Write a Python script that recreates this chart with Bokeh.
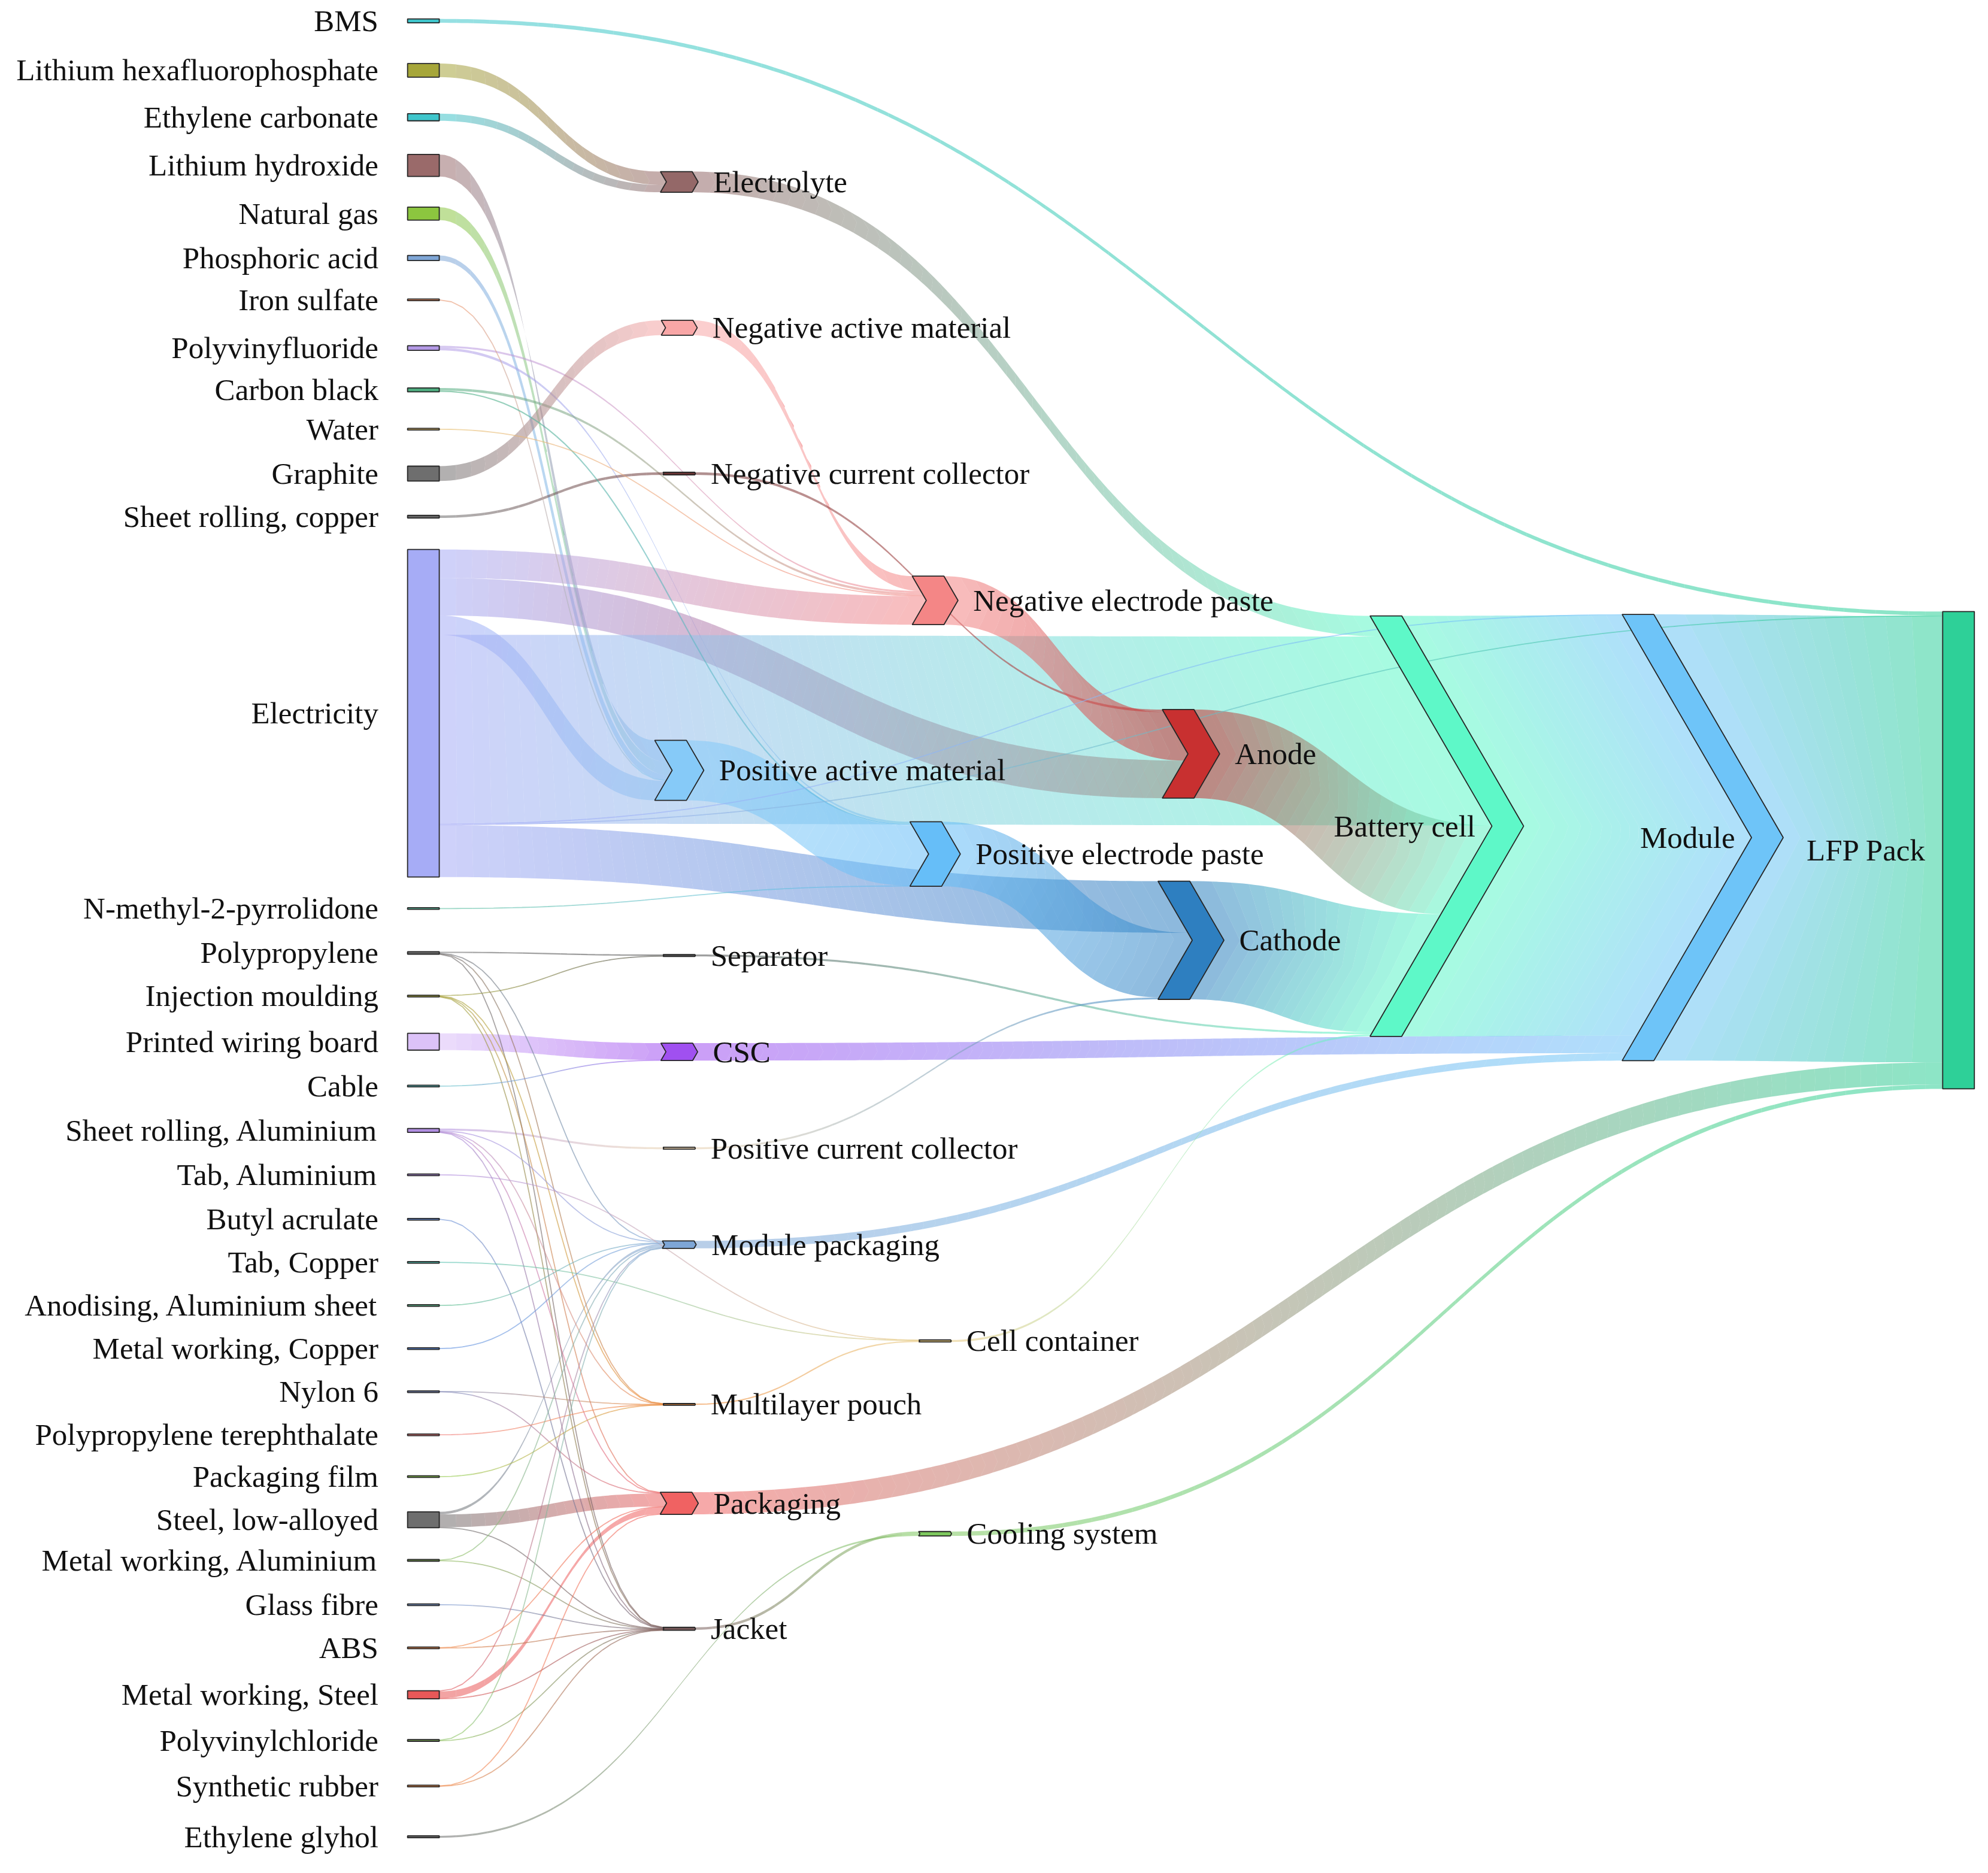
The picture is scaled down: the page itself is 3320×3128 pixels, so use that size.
import numpy as np
from bokeh.plotting import figure
from bokeh.models import Range1d, ColumnDataSource
from bokeh.core.properties import value
from bokeh.embed import file_html
from bokeh.resources import INLINE

# ---------------- data ----------------
node_names = [
    "BMS", "Lithium hexafluorophosphate", "Ethylene carbonate", "Lithium hydroxide", "Natural gas",
    "Phosphoric acid", "Iron sulfate", "Polyvinyfluoride", "Carbon black", "Water", "Graphite",
    "Sheet rolling, copper", "Electricity", "N-methyl-2-pyrrolidone", "Polypropylene",
    "Injection moulding", "Printed wiring board", "Cable", "Sheet rolling, Aluminium",
    "Tab, Aluminium", "Butyl acrulate", "Tab, Copper", "Anodising, Aluminium sheet",
    "Metal working, Copper", "Nylon 6", "Polypropylene terephthalate", "Packaging film",
    "Steel, low-alloyed", "Metal working, Aluminium", "Glass fibre", "ABS", "Metal working, Steel",
    "Polyvinylchloride", "Synthetic rubber", "Ethylene glyhol",
    "Electrolyte", "Negative active material", "Negative current collector",
    "Positive active material", "Separator", "CSC", "Positive current collector",
    "Module packaging", "Multilayer pouch", "Packaging", "Jacket",
    "Negative electrode paste", "Positive electrode paste", "Cell container", "Cooling system",
    "Anode", "Cathode", "Battery cell", "Module", "LFP Pack",
]

node_colors = [
    "#3fc6cc", "#a6a63a", "#3fc6cc", "#9a6a6a", "#8cc63f",
    "#7fa6d6", "#f0956a", "#b49ae6", "#4fae80", "#e6c070", "#6e6e6e",
    "#6e6e6e", "#a6acf6", "#5fc0a0", "#6e6e6e",
    "#a6a63a", "#dcc2f8", "#5fc6c6", "#b08ee0",
    "#b08ee0", "#6f96e0", "#4fc0b0", "#5fc090",
    "#5f8fe0", "#7f8fc0", "#f07f7f", "#8fce4f",
    "#6e6e6e", "#8fc05f", "#7f9fd6", "#f08f4f", "#e85858",
    "#8fc65f", "#f08f4f", "#6e6e6e",
    "#946868", "#f8a6a6", "#6e3434",
    "#86caf8", "#505050", "#a050f0", "#e6cfae",
    "#7ea6d6", "#f08c3c", "#f06262", "#7a5c5c",
    "#f48686", "#66bef8", "#e6c87e", "#7ec85e",
    "#c83030", "#2e7fc0", "#5ef8c8", "#6ec4f8", "#2ed098",
]

link_source = [
    "BMS", "Lithium hexafluorophosphate", "Ethylene carbonate",
    "Lithium hydroxide", "Natural gas", "Phosphoric acid", "Iron sulfate",
    "Polyvinyfluoride", "Polyvinyfluoride", "Carbon black", "Carbon black", "Water",
    "Graphite", "Sheet rolling, copper",
    "Electricity", "Electricity", "Electricity", "Electricity", "Electricity", "Electricity", "Electricity",
    "N-methyl-2-pyrrolidone",
    "Polypropylene", "Polypropylene", "Polypropylene", "Polypropylene",
    "Injection moulding", "Injection moulding", "Injection moulding", "Injection moulding",
    "Printed wiring board", "Cable",
    "Sheet rolling, Aluminium", "Sheet rolling, Aluminium", "Sheet rolling, Aluminium",
    "Sheet rolling, Aluminium", "Sheet rolling, Aluminium",
    "Tab, Aluminium", "Butyl acrulate", "Tab, Copper", "Anodising, Aluminium sheet",
    "Metal working, Copper", "Nylon 6", "Nylon 6", "Polypropylene terephthalate", "Packaging film",
    "Steel, low-alloyed", "Steel, low-alloyed", "Steel, low-alloyed",
    "Metal working, Aluminium", "Metal working, Aluminium", "Glass fibre", "ABS", "ABS",
    "Metal working, Steel", "Metal working, Steel", "Metal working, Steel",
    "Polyvinylchloride", "Polyvinylchloride", "Synthetic rubber", "Synthetic rubber",
    "Ethylene glyhol",
    "Electrolyte", "Negative active material", "Negative current collector",
    "Positive active material", "Separator", "CSC", "Positive current collector",
    "Module packaging", "Multilayer pouch", "Packaging", "Jacket",
    "Negative electrode paste", "Positive electrode paste", "Cell container", "Cooling system",
    "Anode", "Cathode", "Battery cell", "Module",
]
link_target = [
    "LFP Pack", "Electrolyte", "Electrolyte",
    "Positive active material", "Positive active material", "Positive active material",
    "Positive active material",
    "Negative electrode paste", "Positive electrode paste", "Negative electrode paste",
    "Positive electrode paste", "Negative electrode paste",
    "Negative active material", "Negative current collector",
    "Negative electrode paste", "Anode", "Positive active material", "Battery cell", "Module",
    "LFP Pack", "Cathode",
    "Positive electrode paste",
    "Separator", "Module packaging", "Multilayer pouch", "Jacket",
    "Separator", "Multilayer pouch", "Packaging", "Jacket",
    "CSC", "CSC",
    "Positive current collector", "Module packaging", "Multilayer pouch", "Packaging", "Jacket",
    "Cell container", "Jacket", "Cell container", "Module packaging",
    "Module packaging", "Multilayer pouch", "Packaging", "Multilayer pouch", "Multilayer pouch",
    "Module packaging", "Packaging", "Jacket",
    "Module packaging", "Jacket", "Jacket", "Packaging", "Jacket",
    "Module packaging", "Packaging", "Jacket",
    "Module packaging", "Jacket", "Jacket", "Packaging",
    "Cooling system",
    "Battery cell", "Negative electrode paste", "Anode",
    "Positive electrode paste", "Battery cell", "Module", "Cathode",
    "Module", "Cell container", "LFP Pack", "Cooling system",
    "Anode", "Cathode", "Battery cell", "LFP Pack",
    "Battery cell", "Battery cell", "Module", "LFP Pack",
]
link_value = [
    3.0, 10.5, 5.5,
    17.0, 10.0, 4.0, 0.4,
    1.5, 2.0, 2.0, 1.0, 0.5,
    11.5, 2.0,
    22.0, 29.0, 15.0, 146.0, 0.6, 0.6, 40.0,
    0.5,
    1.0, 0.5, 0.2, 0.2,
    0.5, 0.2, 0.4, 0.2,
    13.0, 0.5,
    1.5, 0.8, 0.2, 0.3, 0.2,
    0.3, 0.2, 0.3, 0.5,
    0.5, 0.2, 0.3, 0.2, 0.2,
    2.0, 10.0, 0.3,
    0.5, 0.2, 0.2, 0.3, 0.2,
    0.6, 5.5, 0.2,
    0.4, 0.2, 0.2, 0.3,
    1.5,
    16.0, 11.5, 2.0,
    46.4, 1.5, 13.5, 1.5,
    5.8, 1.0, 17.1, 1.9,
    37.5, 49.9, 1.6, 3.4,
    68.5, 91.4, 325.1, 344.9,
]

# ---------------- layout (column index, vertical centre in reference units) ----------------
node_layout = {
    "BMS": (0, 20), "Lithium hexafluorophosphate": (0, 59), "Ethylene carbonate": (0, 96),
    "Lithium hydroxide": (0, 134), "Natural gas": (0, 172), "Phosphoric acid": (0, 207),
    "Iron sulfate": (0, 240), "Polyvinyfluoride": (0, 278), "Carbon black": (0, 311),
    "Water": (0, 342), "Graphite": (0, 377), "Sheet rolling, copper": (0, 411),
    "Electricity": (0, 566), "N-methyl-2-pyrrolidone": (0, 720), "Polypropylene": (0, 755),
    "Injection moulding": (0, 789), "Printed wiring board": (0, 825), "Cable": (0, 860),
    "Sheet rolling, Aluminium": (0, 895), "Tab, Aluminium": (0, 930), "Butyl acrulate": (0, 965),
    "Tab, Copper": (0, 999), "Anodising, Aluminium sheet": (0, 1033),
    "Metal working, Copper": (0, 1067), "Nylon 6": (0, 1101),
    "Polypropylene terephthalate": (0, 1135), "Packaging film": (0, 1168),
    "Steel, low-alloyed": (0, 1202), "Metal working, Aluminium": (0, 1234),
    "Glass fibre": (0, 1269), "ABS": (0, 1303), "Metal working, Steel": (0, 1340),
    "Polyvinylchloride": (0, 1376), "Synthetic rubber": (0, 1412), "Ethylene glyhol": (0, 1452),
    "Electrolyte": (1, 147), "Negative active material": (1, 262),
    "Negative current collector": (1, 377), "Positive active material": (1, 611),
    "Separator": (1, 757), "CSC": (1, 833), "Positive current collector": (1, 909),
    "Module packaging": (1, 985), "Multilayer pouch": (1, 1111), "Packaging": (1, 1189),
    "Jacket": (1, 1288),
    "Negative electrode paste": (2, 477), "Positive electrode paste": (2, 677),
    "Cell container": (2, 1061), "Cooling system": (2, 1213),
    "Anode": (3, 598), "Cathode": (3, 745), "Battery cell": (4, 655), "Module": (5, 664),
    "LFP Pack": (6, 674),
}

W, H = 3304, 3112
KX, KY = 3320 / 1568, 3128 / 1477
SCALE = 1.02          # reference units per value unit
BW = 25               # node body width
COL0, COLSTEP = 337.5, 201.8
CHEV = 0.29
LAST_COL = 6
FONT = "51px"


def hex2rgb(h):
    h = h.lstrip("#")
    return np.array([int(h[i:i + 2], 16) for i in (0, 2, 4)], dtype=float)


def mix(c1, c2, u):
    c = hex2rgb(c1) * (1 - u) + hex2rgb(c2) * u
    return "#%02x%02x%02x" % tuple(int(round(v)) for v in c)


n = len(node_names)
idx = {nm: i for i, nm in enumerate(node_names)}
src = np.array([idx[s] for s in link_source])
tgt = np.array([idx[t] for t in link_target])
val = np.array(link_value, dtype=float)

inflow = np.zeros(n)
outflow = np.zeros(n)
for s, t, v in zip(src, tgt, val):
    outflow[s] += v
    inflow[t] += v
height = np.maximum(inflow, outflow) * SCALE
col = np.array([node_layout[nm][0] for nm in node_names])
cy = np.array([node_layout[nm][1] for nm in node_names], dtype=float)
y0 = cy - height / 2
y1 = cy + height / 2
off = np.where((col > 0) & (col < LAST_COL), CHEV * height, 0.0)
cx = COL0 + COLSTEP * col
xl = cx - (BW + off) / 2


def left_edge(i, y):
    if off[i] == 0:
        return xl[i]
    f = 1 - min(1.0, abs(y - cy[i]) / (height[i] / 2))
    return xl[i] + off[i] * f


def right_edge(i, y):
    return left_edge(i, y) + BW


# link stacking
L = len(val)
wl = val * SCALE
sy = np.zeros(L)
ty = np.zeros(L)
for i in range(n):
    outs = sorted([k for k in range(L) if src[k] == i], key=lambda k: cy[tgt[k]])
    y = y0[i]
    for k in outs:
        sy[k] = y
        y += wl[k]
    ins = sorted([k for k in range(L) if tgt[k] == i], key=lambda k: cy[src[k]])
    y = y0[i]
    for k in ins:
        ty[k] = y
        y += wl[k]


def bez(xa, ya, xb, yb, tt):
    xm = (xa + xb) / 2
    a = (1 - tt) ** 3 + 3 * (1 - tt) ** 2 * tt
    x = (1 - tt) ** 3 * xa + 3 * (1 - tt) ** 2 * tt * xm + 3 * (1 - tt) * tt ** 2 * xm + tt ** 3 * xb
    y = a * ya + (1 - a) * yb
    return x, y


poly_xs, poly_ys, poly_c = [], [], []
line_xs, line_ys, line_c, line_w = [], [], [], []

for k in range(L):
    s, t = src[k], tgt[k]
    w = wl[k]
    c1, c2 = node_colors[s], node_colors[t]
    thin = w * KY < 2.4
    xs_c = right_edge(s, sy[k] + w / 2)
    xt_c = left_edge(t, ty[k] + w / 2)
    nseg = max(8, int((xt_c - xs_c) / 9))
    sub = 3
    tt = np.linspace(0, 1, nseg * sub + 1)
    if thin:
        mx, my = bez(xs_c, sy[k] + w / 2, xt_c, ty[k] + w / 2, tt)
        nseg_l = max(6, nseg // 2)
        tt = np.linspace(0, 1, nseg_l * sub + 1)
        mx, my = bez(xs_c, sy[k] + w / 2, xt_c, ty[k] + w / 2, tt)
        for j in range(nseg_l):
            sl = slice(j * sub, j * sub + sub + 1)
            u = (mx[sl].mean() - xs_c) / (xt_c - xs_c)
            line_xs.append(list(mx[sl]))
            line_ys.append(list(my[sl]))
            line_c.append(mix(c1, c2, float(np.clip(u, 0, 1))))
            line_w.append(max(w * KY, 1.8))
        continue
    # boundary offsets: band edges plus chevron kinks that fall inside the band
    ds = [0.0, w]
    if off[s] > 0 and 0 < cy[s] - sy[k] < w:
        ds.append(cy[s] - sy[k])
    if off[t] > 0 and 0 < cy[t] - ty[k] < w:
        ds.append(cy[t] - ty[k])
    ds = sorted(set(ds))
    curves = [bez(right_edge(s, sy[k] + d), sy[k] + d, left_edge(t, ty[k] + d), ty[k] + d, tt)
              for d in ds]
    xs0 = np.mean([c[0][0] for c in curves])
    xt0 = np.mean([c[0][-1] for c in curves])
    m = len(curves) - 1
    for j in range(nseg):
        a0, a1 = j * sub, j * sub + sub
        sl = slice(a0, a1 + 1)
        px = list(curves[0][0][sl])
        py = list(curves[0][1][sl])
        for i in range(1, m):
            px.append(curves[i][0][a1]); py.append(curves[i][1][a1])
        px += list(curves[m][0][sl][::-1])
        py += list(curves[m][1][sl][::-1])
        for i in range(m - 1, 0, -1):
            px.append(curves[i][0][a0]); py.append(curves[i][1][a0])
        xmid = np.mean([c[0][sl].mean() for c in curves])
        u = (xmid - xs0) / (xt0 - xs0)
        poly_xs.append(px)
        poly_ys.append(py)
        poly_c.append(mix(c1, c2, float(np.clip(u, 0, 1))))

p = figure(width=W, height=H, output_backend="svg", toolbar_location=None,
           x_range=Range1d(8 / KX, (8 + W) / KX), y_range=Range1d((8 + H) / KY, 8 / KY),
           x_axis_type=None, y_axis_type=None, min_border=0)
p.outline_line_color = None
p.grid.visible = False
p.background_fill_color = "white"

p.patches("xs", "ys", source=ColumnDataSource(dict(xs=poly_xs, ys=poly_ys, c=poly_c)),
          fill_color="c", fill_alpha=0.55, line_color=None)
p.multi_line("xs", "ys", source=ColumnDataSource(dict(xs=line_xs, ys=line_ys, c=line_c, w=line_w)),
             line_color="c", line_width="w", line_alpha=0.6)

# nodes
nx, ny, nc = [], [], []
for i in range(n):
    x0 = xl[i]
    hh = max(height[i], 1.3) / 2
    ya, yb = cy[i] - hh, cy[i] + hh
    if col[i] == 0 or col[i] == LAST_COL:
        nx.append([x0, x0 + BW, x0 + BW, x0])
        ny.append([ya, ya, yb, yb])
    else:
        o = off[i]
        nx.append([x0, x0 + BW, x0 + BW + o, x0 + BW, x0, x0 + o])
        ny.append([ya, ya, cy[i], yb, yb, cy[i]])
    nc.append(node_colors[i])
p.patches("xs", "ys", source=ColumnDataSource(dict(xs=nx, ys=ny, c=nc)),
          fill_color="c", fill_alpha=1.0, line_color="#262626", line_width=1.8)

# labels
lx_r, ly_r, lt_r = [], [], []
lx_l, ly_l, lt_l = [], [], []
for i in range(n):
    if col[i] == 0:
        lx_r.append(xl[i] - 23); ly_r.append(cy[i]); lt_r.append(node_names[i])
    elif col[i] >= 4:
        lx_r.append(xl[i] + off[i] - 13); ly_r.append(cy[i]); lt_r.append(node_names[i])
    else:
        lx_l.append(xl[i] + BW + off[i] + 12); ly_l.append(cy[i]); lt_l.append(node_names[i])

p.text("x", "y", "t", source=ColumnDataSource(dict(x=lx_r, y=ly_r, t=lt_r)),
       text_align="right", text_baseline="middle", text_font=value("Liberation Serif"),
       text_font_size=FONT, text_color="#111111")
p.text("x", "y", "t", source=ColumnDataSource(dict(x=lx_l, y=ly_l, t=lt_l)),
       text_align="left", text_baseline="middle", text_font=value("Liberation Serif"),
       text_font_size=FONT, text_color="#111111")

open("out.html", "w").write(file_html(p, INLINE))
